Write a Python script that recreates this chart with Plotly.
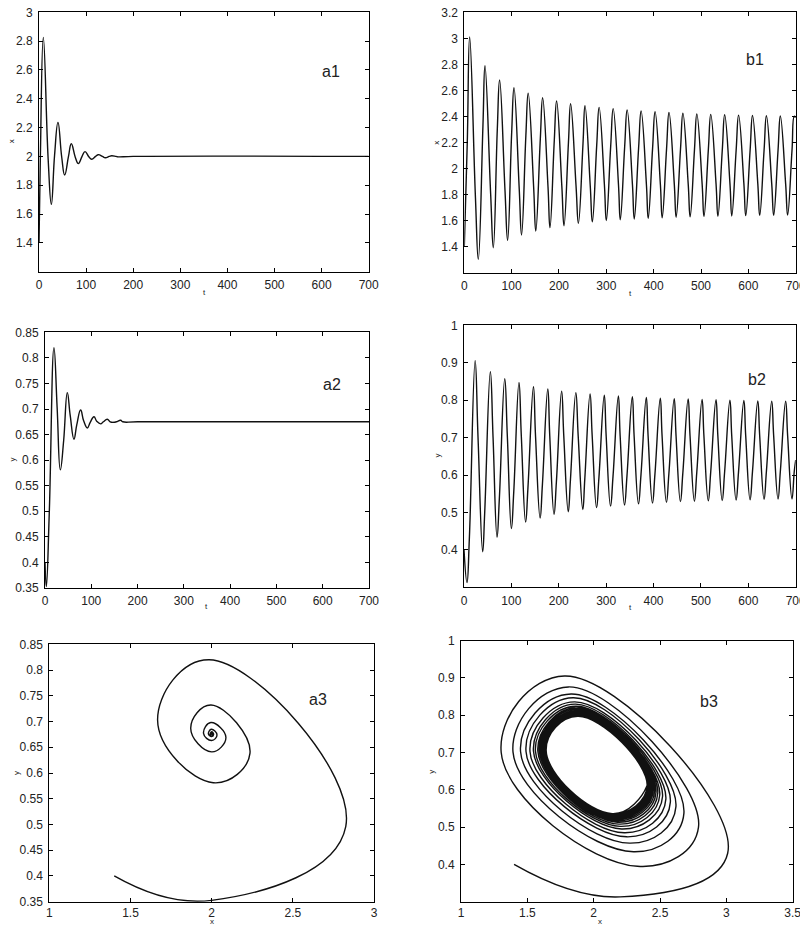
import plotly.graph_objects as go

# ---------------- data ----------------
# Case (a): damped oscillation to equilibrium (x*=2, y*=0.675)
A_START = (0.0, 1.4, 0.4)                      # (t, x, y)
A_XPEAK_T = [9.2, 40.3, 68.6, 97.7, 126, 154.3]
A_XPEAK = [2.826, 2.236, 2.088, 2.033, 2.012, 2.005]
A_Y_AT_XPEAK = [0.496, 0.638, 0.669, 0.674, 0.675, 0.675]
A_YPEAK_T = [19.4, 48.2, 77, 105.8, 134.6, 163.4]
A_YPEAK = [0.82, 0.732, 0.698, 0.685, 0.68, 0.678]
A_X_AT_YPEAK = [1.984, 1.996, 1.995, 1.998, 2.0, 2.0]
A_XTROUGH_T = [26.2, 54.5, 83.5, 111.8, 140.8, 168]
A_XTROUGH = [1.667, 1.871, 1.95, 1.98, 1.991, 1.997]
A_Y_AT_XTROUGH = [0.703, 0.687, 0.677, 0.676, 0.675, 0.675]
A_YTROUGH_T = [2.9, 33.1, 62.6, 91.4, 120.2, 149]
A_YTROUGH = [0.3526, 0.581, 0.641, 0.663, 0.671, 0.674]
A_X_AT_YTROUGH = [2.0, 2.01, 2.0, 2.0, 2.0, 2.0]
A_TAIL = [(200, 2.0, 0.675), (700, 2.0, 0.675)]

# Case (b): oscillation approaching a limit cycle
B_START = (0.0, 1.4, 0.4)
B_XPEAK_T = [11.3, 43.7, 74.6, 105, 135, 165.5, 195, 224.6, 255, 284.8, 314.5, 344,
             373.5, 403, 432.4, 461.8, 491.2, 520.6, 550, 579.4, 608.8, 638.2, 667.6, 697]
B_XPEAK = [3.01, 2.79, 2.68, 2.62, 2.578, 2.544, 2.519, 2.498, 2.483, 2.47, 2.46, 2.45,
           2.442, 2.436, 2.43, 2.425, 2.42, 2.416, 2.413, 2.41, 2.407, 2.405, 2.403, 2.401]
B_Y_AT_XPEAK = [0.43, 0.50, 0.537, 0.555, 0.567, 0.575, 0.582, 0.587, 0.591, 0.594, 0.597, 0.599,
                0.601, 0.603, 0.604, 0.605, 0.606, 0.607, 0.608, 0.609, 0.609, 0.61, 0.61, 0.61]
B_YPEAK_T = [23.5, 55.6, 86, 116, 146.5, 176.8, 206, 236, 266, 296, 325.7, 355.2,
             384.7, 414.2, 443.6, 473, 502.4, 531.8, 561.2, 590.6, 620, 649.4, 678.8]
B_YPEAK = [0.9055, 0.876, 0.857, 0.847, 0.836, 0.830, 0.824, 0.820, 0.8165, 0.813, 0.811, 0.809,
           0.807, 0.805, 0.804, 0.803, 0.802, 0.801, 0.800, 0.799, 0.798, 0.797, 0.797]
B_X_AT_YPEAK = [1.78, 1.81, 1.83, 1.845, 1.855, 1.86, 1.865, 1.868, 1.87, 1.872, 1.874, 1.875,
                1.876, 1.877, 1.878, 1.878, 1.879, 1.879, 1.88, 1.88, 1.88, 1.88, 1.88]
B_XTROUGH_T = [29.6, 61.3, 91.5, 121, 151, 181, 210.6, 241, 270.5, 300, 329.5, 359,
               388.5, 418, 447.5, 477, 506.3, 535.7, 565, 594.5, 624, 653.5, 683]
B_XTROUGH = [1.303, 1.392, 1.449, 1.49, 1.52, 1.546, 1.561, 1.579, 1.59, 1.60, 1.607, 1.613,
             1.618, 1.622, 1.626, 1.629, 1.632, 1.634, 1.636, 1.638, 1.64, 1.641, 1.642]
B_Y_AT_XTROUGH = [0.70, 0.701, 0.702, 0.703, 0.703, 0.704, 0.704, 0.704, 0.705, 0.705, 0.705, 0.705,
                  0.705, 0.705, 0.705, 0.705, 0.705, 0.705, 0.705, 0.705, 0.705, 0.705, 0.705]
B_YTROUGH_T = [6.3, 39.4, 69.7, 100, 130, 160.6, 190, 220, 250.7, 279.7, 309.2, 338.7,
               368.2, 397.7, 427.2, 456.7, 486.2, 515.5, 544.9, 574.2, 603.7, 633.2, 662.7, 692.2]
B_YTROUGH = [0.313, 0.395, 0.434, 0.457, 0.474, 0.485, 0.495, 0.502, 0.508, 0.513, 0.517, 0.520,
             0.523, 0.525, 0.527, 0.529, 0.530, 0.531, 0.532, 0.533, 0.534, 0.535, 0.536, 0.536]
B_X_AT_YTROUGH = [2.2, 2.33, 2.30, 2.27, 2.25, 2.23, 2.21, 2.2, 2.19, 2.18, 2.17, 2.165,
                  2.16, 2.155, 2.15, 2.15, 2.145, 2.145, 2.14, 2.14, 2.14, 2.14, 2.14, 2.14]
B_TAIL = [(700, 2.39, 0.64)]

# tick labels
T_TICKS = [0, 100, 200, 300, 400, 500, 600, 700]
A1_Y_TICKS = [1.4, 1.6, 1.8, 2, 2.2, 2.4, 2.6, 2.8, 3]
B1_Y_TICKS = [1.4, 1.6, 1.8, 2, 2.2, 2.4, 2.6, 2.8, 3, 3.2]
A_Y_TICKS = [0.35, 0.4, 0.45, 0.5, 0.55, 0.6, 0.65, 0.7, 0.75, 0.8, 0.85]
B_Y_TICKS = [0.4, 0.5, 0.6, 0.7, 0.8, 0.9, 1]
A3_X_TICKS = [1, 1.5, 2, 2.5, 3]
B3_X_TICKS = [1, 1.5, 2, 2.5, 3, 3.5]


def build(start, xpt, xp, yxp, ypt, yp, xyp, xtt, xt, yxt, ytt, yt, xyt, tail):
    rows = [start]
    rows += list(zip(xpt, xp, yxp))
    rows += list(zip(ypt, xyp, yp))
    rows += list(zip(xtt, xt, yxt))
    rows += list(zip(ytt, xyt, yt))
    rows += tail
    rows.sort(key=lambda r: r[0])
    return [r[0] for r in rows], [r[1] for r in rows], [r[2] for r in rows]


AT, AX, AY = build(A_START, A_XPEAK_T, A_XPEAK, A_Y_AT_XPEAK, A_YPEAK_T, A_YPEAK, A_X_AT_YPEAK,
                   A_XTROUGH_T, A_XTROUGH, A_Y_AT_XTROUGH, A_YTROUGH_T, A_YTROUGH, A_X_AT_YTROUGH, A_TAIL)
BT, BX, BY = build(B_START, B_XPEAK_T, B_XPEAK, B_Y_AT_XPEAK, B_YPEAK_T, B_YPEAK, B_X_AT_YPEAK,
                   B_XTROUGH_T, B_XTROUGH, B_Y_AT_XTROUGH, B_YTROUGH_T, B_YTROUGH, B_X_AT_YTROUGH, B_TAIL)

LINE = dict(color="#111111", width=1.4, shape="spline", smoothing=1.3)

fig = go.Figure()
panels = [
    ("x", "y", AT, AX), ("x2", "y2", BT, BX),
    ("x3", "y3", AT, AY), ("x4", "y4", BT, BY),
    ("x5", "y5", AX, AY), ("x6", "y6", BX, BY),
]
for xa, ya, xs, ys in panels:
    fig.add_trace(go.Scatter(x=xs, y=ys, mode="lines", line=LINE, xaxis=xa, yaxis=ya,
                             showlegend=False, hoverinfo="skip"))

W, H = 800, 925


def dom_x(l, r):
    return [l / W, r / W]


def dom_y(top, bot):
    return [1 - bot / H, 1 - top / H]


def fmt(v):
    return "%g" % v


FAM = "Liberation Sans, Arial, sans-serif"
TICKFONT = dict(family=FAM, size=12, color="#222222")


def axis(domain, rng, ticks, anchor, standoff):
    return dict(domain=domain, range=rng, tickmode="array", tickvals=ticks,
                ticktext=[fmt(v) for v in ticks], showline=True, linecolor="black", linewidth=1,
                mirror="ticks", ticks="inside", ticklen=4, tickcolor="black", tickwidth=1,
                showgrid=False, zeroline=False, tickfont=TICKFONT, anchor=anchor,
                ticklabelstandoff=standoff, ticklabeloverflow="allow",
                automargin=False, fixedrange=True)


specs = [
    # x-dom, y-dom, xrange, yrange, xticks, yticks, x-label standoff
    (dom_x(39, 368.7), dom_y(12.3, 271.7), [0, 700], [1.2, 3], T_TICKS, A1_Y_TICKS, 2),
    (dom_x(464.3, 795.7), dom_y(12.3, 272.7), [0, 700], [1.2, 3.2], T_TICKS, B1_Y_TICKS, 2),
    (dom_x(45, 369), dom_y(332.3, 588), [0, 700], [0.35, 0.85], T_TICKS, A_Y_TICKS, 2),
    (dom_x(464, 795.7), dom_y(325.3, 587.3), [0, 700], [0.3, 1], T_TICKS, B_Y_TICKS, 2),
    (dom_x(49.3, 374), dom_y(644.3, 901.7), [1, 3], [0.35, 0.85], A3_X_TICKS, A_Y_TICKS, 0),
    (dom_x(461, 792.7), dom_y(640.7, 901.7), [1, 3.5], [0.3, 1], B3_X_TICKS, B_Y_TICKS, 0),
]

layout = dict(width=W, height=H, margin=dict(l=0, r=0, t=0, b=0),
              paper_bgcolor="white", plot_bgcolor="white", showlegend=False)
for i, (xd, yd, xr, yr, xt, yt, so) in enumerate(specs):
    n = "" if i == 0 else str(i + 1)
    layout["xaxis" + n] = axis(xd, xr, xt, "y" + n, so)
    layout["yaxis" + n] = axis(yd, yr, yt, "x" + n, 3)

# panel labels (in data coordinates of each panel)
LABELS = [("a1", "x", "y", 621, 2.588), ("b1", "x2", "y2", 614, 2.84),
          ("a2", "x3", "y3", 621, 0.747), ("b2", "x4", "y4", 618, 0.854),
          ("a3", "x5", "y5", 2.657, 0.743), ("b3", "x6", "y6", 2.871, 0.836)]
anns = []
for text, xr_, yr_, xv, yv in LABELS:
    anns.append(dict(text=text, x=xv, y=yv, xref=xr_, yref=yr_, showarrow=False,
                     font=dict(family=FAM, size=16, color="#222222")))

# axis titles (small, placed like the original figure)
AXIS_TITLES = [("x", 11.5, 141.7, -90), ("t", 204, 292, 0),
               ("x", 436.5, 143.3, -90), ("t", 630, 293, 0),
               ("y", 11.5, 460, -90), ("t", 207, 606.5, 0),
               ("y", 436.5, 456, -90), ("t", 630, 607, 0),
               ("y", 16, 773, -90), ("x", 211.7, 921.5, 0),
               ("y", 432, 771.7, -90), ("x", 600, 921.5, 0)]
for text, px, py, ang in AXIS_TITLES:
    anns.append(dict(text=text, x=px / W, y=1 - py / H, xref="paper", yref="paper",
                     xanchor="center", yanchor="middle", showarrow=False, textangle=ang,
                     font=dict(family=FAM, size=8, color="#222222")))
layout["annotations"] = anns

fig.update_layout(**layout)
fig.write_html("out.html", config={"displayModeBar": False},
               post_script="document.body.style.margin='0';document.body.style.overflow='hidden';")
